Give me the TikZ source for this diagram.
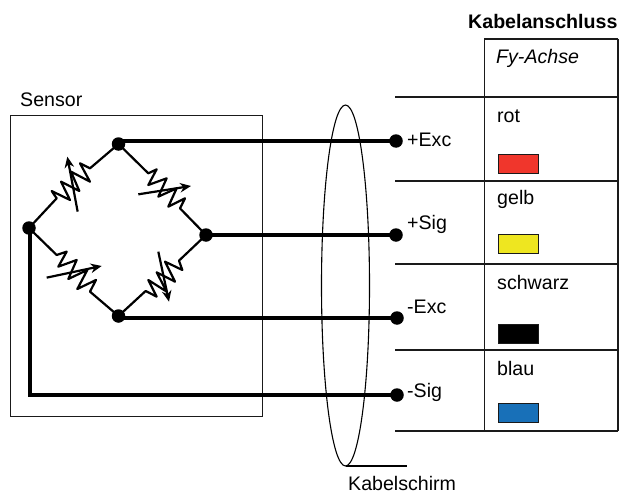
\documentclass[tikz,border=0pt]{standalone}
\usepackage{fontspec}
\setmainfont{Liberation Sans}
\usetikzlibrary{arrows.meta}
\definecolor{ink}{HTML}{1A1A1A}
\tikzset{
 thin line/.style={draw=ink,line width=1.3pt},
 heavy/.style={draw=black,line width=3.6pt},
 res/.style={draw=black,line width=2.2pt,line join=round},
 adj/.style={draw=black,line width=2.2pt,-{Stealth[length=11pt,width=9.5pt]},shorten <=0pt},
 dot/.style={circle,fill=black,inner sep=0pt,minimum size=13.5pt},
 lab/.style={inner sep=0pt,anchor=west,font=\fontsize{19.6}{22}\selectfont},
 swatch/.style={draw=ink,line width=1pt,minimum width=40pt,minimum height=19pt,inner sep=0pt,anchor=north west},
}
\begin{document}
\begin{tikzpicture}[x=1pt,y=-1pt]
\useasboundingbox (0,0) rectangle (621,495);
\fill[white] (0,0) rectangle (621,495);
% sensor box
\node[draw=ink,line width=1.1pt,inner sep=0pt,minimum width=252pt,minimum height=301pt,anchor=north west] (box) at (10,115) {};
\node[lab] (sensor) at (20,100) {Sensor};
% bridge
\node[dot] (T) at (118.5,144) {};
\node[dot] (L) at (29,228) {};
\node[dot] (R) at (206,235) {};
\node[dot] (B) at (118.5,316) {};
\node[dot] (pe) at (396,141) {};
\node[dot] (ps) at (396,235) {};
\node[dot] (me) at (397,318) {};
\node[dot] (ms) at (397,395) {};
\coordinate (LL) at (30,395);
\draw[heavy] (T.center |- pe) -- (pe.center);
\draw[heavy] (R.center) -- (ps.center);
\draw[heavy] (B.center |- me) -- (me.center);
\draw[heavy] (L.center -| LL) -- (LL) -- (ms.center);
\begin{scope}[shift={(0pt,-110pt)},x=0.3333pt,y=-0.3333pt]
\draw[res] (L.center) -- (170,265) -- (155,243) -- (210,270) -- (183,215) -- (238,243) -- (213,185) -- (270,215) -- (240,160) -- (270,175) -- (T.center);
\draw[adj] (233,305) -- (202,140);
\draw[res] (T.center) -- (445,190) -- (470,178) -- (445,225) -- (500,205) -- (475,260) -- (530,235) -- (505,290) -- (555,265) -- (540,295) -- (R.center);
\draw[adj] (415,253) -- (573,228);
\draw[res] (R.center) -- (537,452) -- (547,480) -- (495,455) -- (525,515) -- (470,487) -- (500,545) -- (445,510) -- (470,560) -- (437,543) -- (B.center);
\draw[adj] (475,425) -- (507,575);
\draw[res] (L.center) -- (170,435) -- (200,425) -- (175,470) -- (230,450) -- (205,507) -- (262,480) -- (232,537) -- (288,510) -- (270,545) -- (B.center);
\draw[adj] (140,503) -- (305,468);
\end{scope}
% labels
\node[lab] (lpe) at (407,140) {+Exc};
\node[lab] (lps) at (407,224) {+Sig};
\node[lab] (lme) at (407,307) {-Exc};
\node[lab] (lms) at (407,392) {-Sig};
% shield
\draw[draw=black,line width=1.1pt] (345.5,285.5) ellipse [x radius=24pt,y radius=180.5pt];
\coordinate (sb) at (345.5,466);
\coordinate (se) at (407,466);
\draw[draw=black,line width=1.1pt] (sb) -- (se);
\node[lab] (ks) at (348,483) {Kabelschirm};
% table
\node[lab,font=\fontsize{19.6}{22}\selectfont\bfseries] (title) at (468,21) {Kabelanschluss};
\coordinate (c1) at (484.5,39); \coordinate (c2) at (618,39);
\coordinate (r1) at (395,97); \coordinate (r2) at (395,181); \coordinate (r3) at (395,264); \coordinate (r4) at (395,350); \coordinate (r5) at (395,431);
\draw[thin line] (c2) -- (c1) -- (c1 |- r5);
\draw[thin line] (c2) -- (c2 |- r5);
\foreach \r in {r1,r2,r3,r4,r5} \draw[thin line] (\r) -- (\r -| c2);
\node[lab,font=\fontsize{19.6}{22}\selectfont\itshape] (fy) at (496,58) {Fy-Achse};
\node[lab] (rot) at (497,116) {rot};
\node[lab] (gelb) at (497,199) {gelb};
\node[lab] (schw) at (497,282) {schwarz};
\node[lab] (blau) at (497,368) {blau};
\node[swatch,fill={rgb,255:red,240;green,54;blue,44}] (s1) at (498,153.5) {};
\node[swatch,fill={rgb,255:red,238;green,230;blue,32}] (s2) at (498,233.5) {};
\node[swatch,fill=black] (s3) at (498,324) {};
\node[swatch,fill={rgb,255:red,24;green,112;blue,184}] (s4) at (498,402.5) {};
\end{tikzpicture}
\end{document}
